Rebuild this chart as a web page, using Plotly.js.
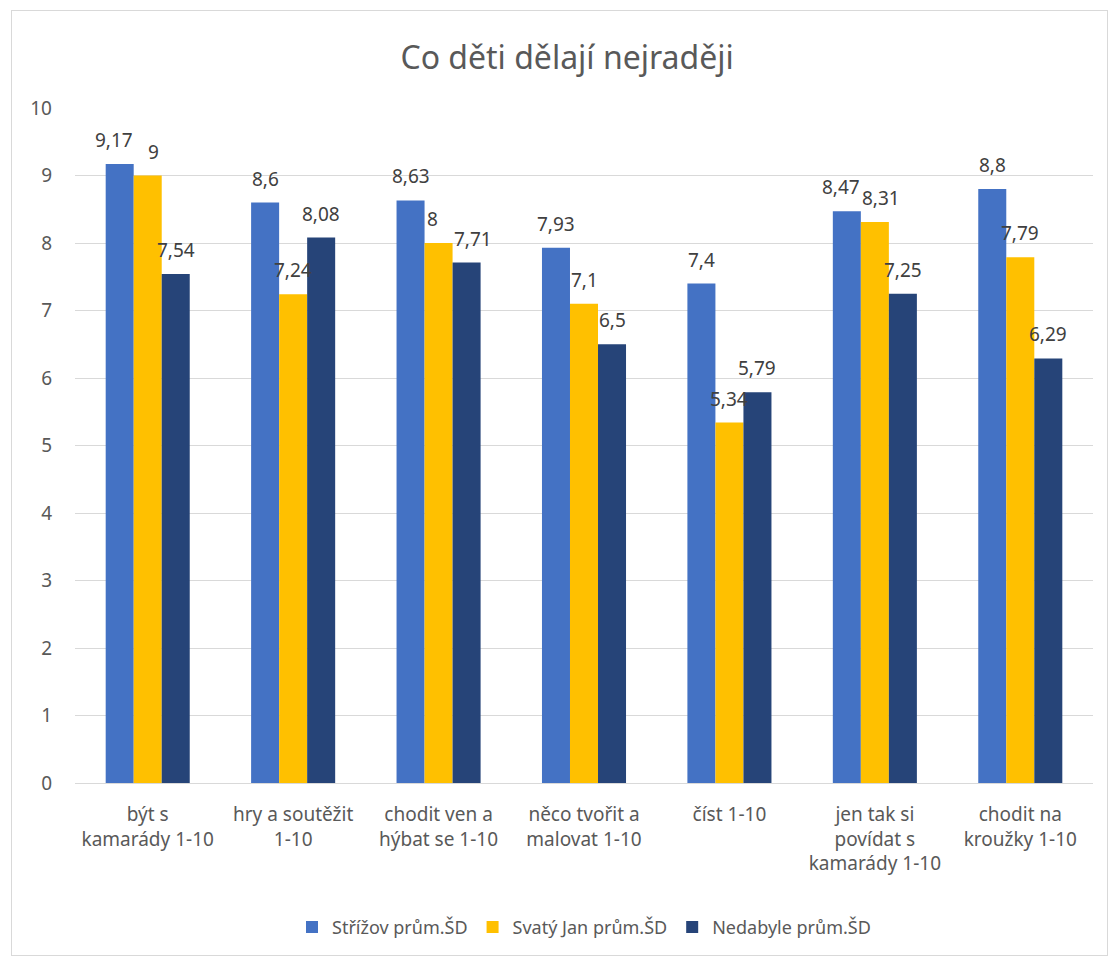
<!DOCTYPE html>
<html>
<head>
<meta charset="utf-8">
<script src="https://cdn.plot.ly/plotly-3.0.1.min.js"></script>
<style>
html,body{margin:0;padding:0;background:#fff;}
#wrap{position:relative;width:1112px;height:957px;}
#chart{position:absolute;left:0;top:0;width:1112px;height:957px;}
#frame{position:absolute;left:11px;top:10px;width:1095px;height:944px;border:1px solid #d9d9d9;pointer-events:none;}
</style>
</head>
<body>
<div id="wrap"><div id="chart"></div><div id="frame"></div></div>
<script>
const categories = [
  "být s<br>kamarády 1-10",
  "hry a soutěžit<br>1-10",
  "chodit ven a<br>hýbat se 1-10",
  "něco tvořit a<br>malovat 1-10",
  "číst 1-10",
  "jen tak si<br>povídat s<br>kamarády 1-10",
  "chodit na<br>kroužky 1-10"
];
const seriesNames = ["Střížov prům.ŠD", "Svatý Jan prům.ŠD", "Nedabyle prům.ŠD"];
const strizov = [9.17, 8.6, 8.63, 7.93, 7.4, 8.47, 8.8];
const svatyJan = [9, 7.24, 8, 7.1, 5.34, 8.31, 7.79];
const nedabyle = [7.54, 8.08, 7.71, 6.5, 5.79, 7.25, 6.29];
const colors = ["#4472C4", "#FFC000", "#264478"];
const yTicks = [0,1,2,3,4,5,6,7,8,9,10];

const FONT = "Noto Sans, Open Sans, sans-serif";
const fmt = v => String(v).replace('.', ',');
const allSeries = [strizov, svatyJan, nedabyle];

const traces = allSeries.map((vals, i) => ({
  type: 'bar',
  name: seriesNames[i],
  x: categories,
  y: vals,
  marker: {color: colors[i]},
  hoverinfo: 'none'
}));

// label nudges: separate neighbouring labels whose heights are close (to avoid overlap)
const nudge = allSeries.map(() => categories.map(() => 0));
for (let j = 0; j < categories.length; j++) {
  for (let i = 0; i < allSeries.length - 1; i++) {
    if (Math.abs(allSeries[i][j] - allSeries[i + 1][j]) < 0.35) {
      nudge[i][j] -= 6;
      nudge[i + 1][j] += 6;
    }
  }
}

const annotations = [];
allSeries.forEach((vals, i) => {
  vals.forEach((v, j) => {
    annotations.push({
      x: categories[j], y: v, xref: 'x', yref: 'y',
      text: fmt(v), showarrow: false,
      xanchor: 'center', yanchor: 'bottom',
      xshift: (i - 1) * 28 + nudge[i][j], yshift: 9,
      font: {family: FONT, size: 19, color: '#404040'}
    });
  });
});

const layout = {
  width: 1112, height: 957,
  margin: {l: 75, r: 19, t: 108, b: 173},
  paper_bgcolor: '#fff', plot_bgcolor: '#fff',
  title: {text: 'Co děti dělají nejraději', x: 0.51, xanchor: 'center', y: 0.94, yanchor: 'middle',
          font: {family: FONT, size: 32, color: '#595959'}},
  barmode: 'group',
  bargap: 0.422,
  bargroupgap: 0,
  showlegend: true,
  legend: {orientation: 'h', x: 0.5, xanchor: 'center', y: -0.212, yanchor: 'middle',
           font: {family: FONT, size: 18, color: '#595959'}, itemwidth: 30},
  annotations: annotations,
  xaxis: {type: 'category', showgrid: false, showline: true, linecolor: '#d9d9d9', linewidth: 1,
          ticks: '', ticklabelstandoff: 14, tickfont: {family: FONT, size: 19, color: '#595959'}, automargin: false},
  yaxis: {range: [0, 10], tickvals: yTicks, showgrid: true, gridcolor: '#d9d9d9', gridwidth: 1,
          zeroline: false, showline: false, ticks: '', ticklabelstandoff: 22,
          tickfont: {family: FONT, size: 19, color: '#595959'}, automargin: false}
};

Plotly.newPlot('chart', traces, layout, {displayModeBar: false, staticPlot: true});
</script>
</body>
</html>
